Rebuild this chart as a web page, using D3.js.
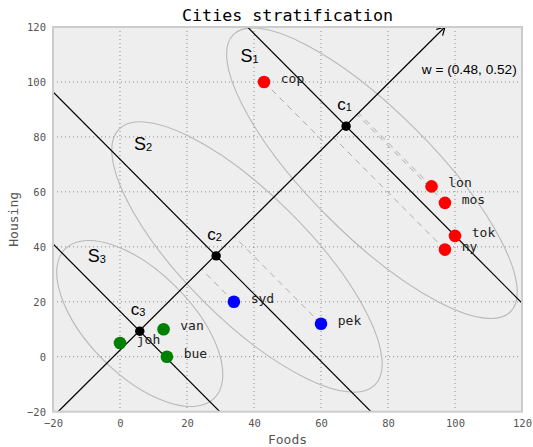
<!DOCTYPE html>
<html>
<head>
<meta charset="utf-8">
<script src="https://cdnjs.cloudflare.com/ajax/libs/d3/7.8.5/d3.min.js"></script>
<style>
body { margin: 0; background: #fff; }
</style>
</head>
<body>
<div id="chart-area"></div>
<script>
// cities (Foods, Housing) and their stratum
var cities  = ["cop", "lon", "mos", "tok", "ny", "syd", "pek", "joh", "van", "bue"];
var foods   = [43, 93, 97, 100, 97, 34, 60, 0, 13, 14];
var housing = [100, 62, 56, 44, 39, 20, 12, 5, 10, 0];
var stratum = [0, 0, 0, 0, 0, 1, 1, 2, 2, 2];
var strataColors = ["#ff0000", "#0000ff", "#008000"];

// stratum centroids on the w axis
var centroidX = [67.5, 28.7, 5.9];
var centroidY = [83.9, 36.7, 9.3];

// w direction arrow (start, end)
var arrowFrom = [-18.5, -20];
var arrowTo   = [97, 120];
var wLabel = "w = (0.48, 0.52)";

// strata ellipses (centre, semi axes in Foods units)
var strataNames = ["1", "2", "3"];
var ellCx = [75.2, 37.9, 5.9];
var ellCy = [66.8, 36.3, 12.1];
var ellA  = [58.5, 54, 31.5];
var ellB  = [18.5, 18.5, 15.4];
var strataLabelX = [36, 4.2, -9.6];
var strataLabelY = [107.3, 75.3, 34.5];

var ticks = [-20, 0, 20, 40, 60, 80, 100, 120];

var W = 533, H = 447;
var mLeft = 53, mRight = 522, mTop = 27, mBottom = 411.7;

var svg = d3.select("#chart-area").append("svg")
    .attr("width", W)
    .attr("height", H);

var x = d3.scaleLinear().domain([-20, 120]).range([mLeft, mRight]);
var y = d3.scaleLinear().domain([-20, 120]).range([mBottom, mTop]);

svg.append("defs").append("clipPath").attr("id", "plot-clip")
    .append("rect")
    .attr("x", mLeft).attr("y", mTop)
    .attr("width", mRight - mLeft).attr("height", mBottom - mTop);

// background
svg.append("rect")
    .attr("x", mLeft).attr("y", mTop)
    .attr("width", mRight - mLeft).attr("height", mBottom - mTop)
    .attr("fill", "#eeeeee");

// grid
var grid = svg.append("g");
grid.selectAll(".gx").data(ticks.slice(1, -1)).enter().append("line")
    .attr("x1", function(d){ return x(d); }).attr("x2", function(d){ return x(d); })
    .attr("y1", mTop).attr("y2", mBottom);
grid.selectAll(".gy").data(ticks.slice(1, -1)).enter().append("line")
    .attr("y1", function(d){ return y(d); }).attr("y2", function(d){ return y(d); })
    .attr("x1", mLeft).attr("x2", mRight);
grid.selectAll("line")
    .attr("stroke", "#8a8a8a")
    .attr("stroke-width", 1)
    .attr("stroke-dasharray", "1,3");

// axes
var xAxis = svg.append("g")
    .attr("transform", "translate(0," + mBottom + ")")
    .call(d3.axisBottom(x).tickValues(ticks).tickSize(0).tickPadding(8));
var yAxis = svg.append("g")
    .attr("transform", "translate(" + mLeft + ",0)")
    .call(d3.axisLeft(y).tickValues(ticks).tickSize(0).tickPadding(7));
[xAxis, yAxis].forEach(function(a){
    a.select(".domain").remove();
    a.selectAll("text")
        .attr("font-family", "DejaVu Sans Mono")
        .attr("font-size", "10.5px")
        .attr("fill", "#555");
});

var plot = svg.append("g").attr("clip-path", "url(#plot-clip)");

// ellipses
plot.selectAll(".ell").data(ellCx).enter().append("ellipse")
    .attr("cx", function(d){ return x(d); })
    .attr("cy", function(d, i){ return y(ellCy[i]); })
    .attr("rx", function(d, i){ return x(ellA[i]) - x(0); })
    .attr("ry", function(d, i){ return x(ellB[i]) - x(0); })
    .attr("transform", function(d, i){
        return "rotate(45," + x(d) + "," + y(ellCy[i]) + ")";
    })
    .attr("fill", "none")
    .attr("stroke", "#b8b8b8")
    .attr("stroke-width", 1.1);

// w axis in pixel space
var p0 = [x(arrowFrom[0]), y(arrowFrom[1])];
var p1 = [x(arrowTo[0]), y(arrowTo[1])];
var len = Math.hypot(p1[0] - p0[0], p1[1] - p0[1]);
var ux = (p1[0] - p0[0]) / len, uy = (p1[1] - p0[1]) / len;
function foot(px, py){
    var t = (px - p0[0]) * ux + (py - p0[1]) * uy;
    return [p0[0] + t * ux, p0[1] + t * uy];
}

// projections of the cities on w
var projected = cities.map(function(c, i){ return i; })
    .filter(function(i){ return stratum[i] < 2; });
plot.selectAll(".proj").data(projected).enter().append("line")
    .attr("x1", function(i){ return x(foods[i]); })
    .attr("y1", function(i){ return y(housing[i]); })
    .attr("x2", function(i){ return foot(x(foods[i]), y(housing[i]))[0]; })
    .attr("y2", function(i){ return foot(x(foods[i]), y(housing[i]))[1]; })
    .attr("stroke", "#aaaaaa")
    .attr("stroke-width", 1)
    .attr("stroke-dasharray", "6,5");

// strata boundaries perpendicular to w
plot.selectAll(".bound").data(centroidX).enter().append("line")
    .attr("x1", function(d){ return x(d) + 900 * uy; })
    .attr("y1", function(d, i){ return y(centroidY[i]) - 900 * ux; })
    .attr("x2", function(d){ return x(d) - 900 * uy; })
    .attr("y2", function(d, i){ return y(centroidY[i]) + 900 * ux; })
    .attr("stroke", "#000")
    .attr("stroke-width", 1.2);

// w arrow
svg.append("line")
    .attr("x1", p0[0]).attr("y1", p0[1])
    .attr("x2", p1[0]).attr("y2", p1[1])
    .attr("stroke", "#000").attr("stroke-width", 1.2);
var hl = 9, ang = Math.PI / 6;
function barb(s){
    var c = Math.cos(s * ang), sn = Math.sin(s * ang);
    var bx = -ux * c + uy * sn, by = -ux * sn - uy * c;
    return [p1[0] + hl * bx, p1[1] + hl * by];
}
var b1 = barb(1), b2 = barb(-1);
svg.append("path")
    .attr("d", "M" + b1 + "L" + p1 + "L" + b2)
    .attr("fill", "none").attr("stroke", "#000").attr("stroke-width", 1.2);

// cities
svg.selectAll(".city").data(cities).enter().append("circle")
    .attr("cx", function(d, i){ return x(foods[i]); })
    .attr("cy", function(d, i){ return y(housing[i]); })
    .attr("r", 6.3)
    .attr("fill", function(d, i){ return strataColors[stratum[i]]; });

svg.selectAll(".cityLabel").data(cities).enter().append("text")
    .attr("x", function(d, i){ return x(foods[i] + 5); })
    .attr("y", function(d, i){ return y(housing[i]) + 1; })
    .attr("font-family", "DejaVu Sans Mono")
    .attr("font-size", "13px")
    .attr("fill", "#222")
    .text(function(d){ return d; });

// centroids
svg.selectAll(".centroid").data(centroidX).enter().append("circle")
    .attr("cx", function(d){ return x(d); })
    .attr("cy", function(d, i){ return y(centroidY[i]); })
    .attr("r", 4.7)
    .attr("fill", "#000");

var cLab = svg.selectAll(".cLabel").data(centroidX).enter().append("text")
    .attr("x", function(d){ return x(d) - 9; })
    .attr("y", function(d, i){ return y(centroidY[i]) - 16; })
    .attr("font-family", "Liberation Sans")
    .attr("font-size", "17px")
    .attr("fill", "#000");
cLab.append("tspan").text("c");
cLab.append("tspan")
    .attr("font-size", "11px")
    .attr("dy", 1)
    .text(function(d, i){ return strataNames[i]; });

// strata labels
var sLab = svg.selectAll(".sLabel").data(strataLabelX).enter().append("text")
    .attr("x", function(d){ return x(d); })
    .attr("y", function(d, i){ return y(strataLabelY[i]); })
    .attr("font-family", "Liberation Sans")
    .attr("font-size", "18px")
    .attr("fill", "#000");
sLab.append("tspan").text("S");
sLab.append("tspan")
    .attr("font-size", "11px")
    .attr("dy", 1)
    .text(function(d, i){ return strataNames[i]; });

svg.append("text")
    .attr("x", x(90.1)).attr("y", y(102.8))
    .attr("font-family", "Liberation Sans")
    .attr("font-size", "13.6px")
    .attr("fill", "#000")
    .text(wLabel);

// frame
svg.append("rect")
    .attr("x", mLeft).attr("y", mTop)
    .attr("width", mRight - mLeft).attr("height", mBottom - mTop)
    .attr("fill", "none")
    .attr("stroke", "#cccccc")
    .attr("stroke-width", 2);

// titles
svg.append("text")
    .attr("x", (mLeft + mRight) / 2).attr("y", 21)
    .attr("text-anchor", "middle")
    .attr("font-family", "DejaVu Sans Mono")
    .attr("font-size", "16.7px")
    .attr("fill", "#000")
    .text("Cities stratification");

svg.append("text")
    .attr("x", (mLeft + mRight) / 2).attr("y", 444)
    .attr("text-anchor", "middle")
    .attr("font-family", "DejaVu Sans Mono")
    .attr("font-size", "13px")
    .attr("fill", "#555")
    .text("Foods");

svg.append("text")
    .attr("transform", "translate(18," + ((mTop + mBottom) / 2) + ") rotate(-90)")
    .attr("text-anchor", "middle")
    .attr("font-family", "DejaVu Sans Mono")
    .attr("font-size", "13px")
    .attr("fill", "#555")
    .text("Housing");
</script>
</body>
</html>
